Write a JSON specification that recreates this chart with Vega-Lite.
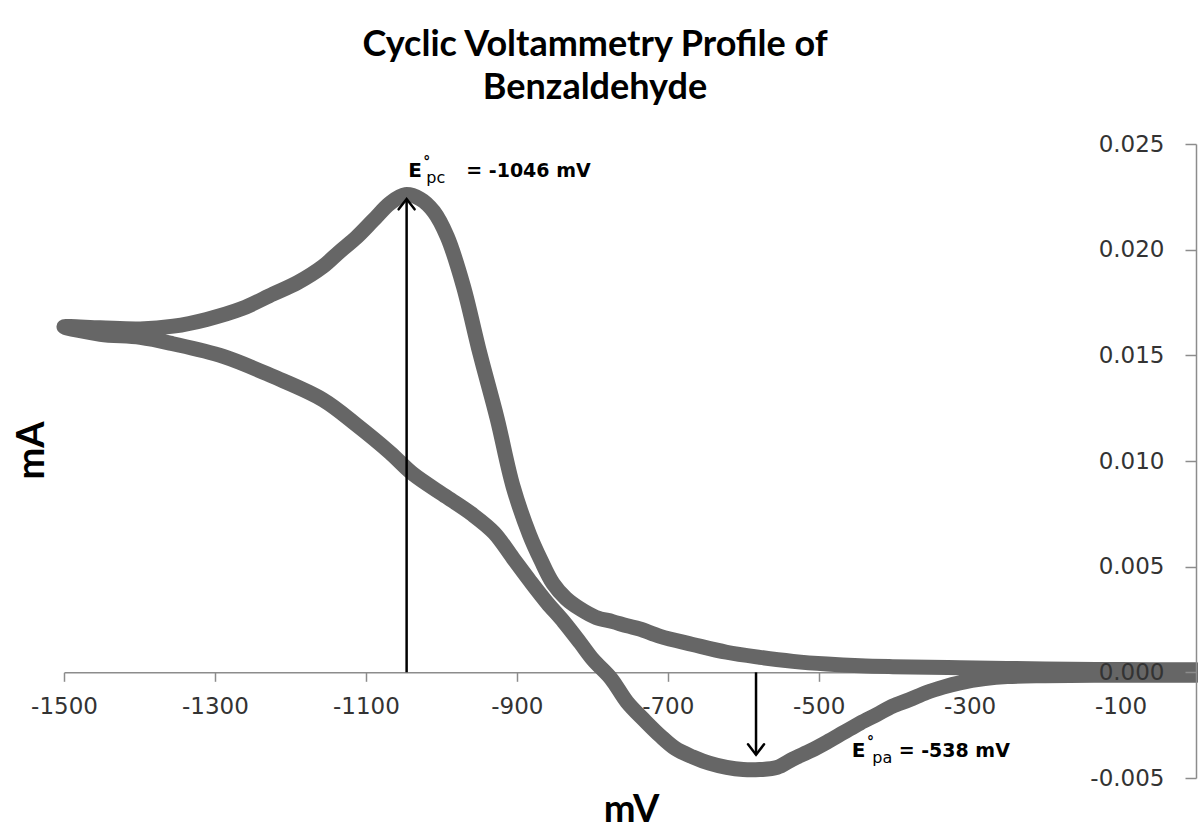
{
  "$schema": "https://vega.github.io/schema/vega-lite/v6.json",
  "width": 1132,
  "height": 634,
  "autosize": {"type": "none"},
  "padding": {"left": 64, "top": 144, "right": 2, "bottom": 56},
  "background": "white",
  "config": {"view": {"stroke": null}},
  "title": {
    "text": ["Cyclic Voltammetry Profile of", "Benzaldehyde"],
    "font": "Lato",
    "fontSize": 36,
    "fontWeight": "bold",
    "lineHeight": 43,
    "color": "black",
    "anchor": "middle",
    "dx": -35,
    "baseline": "bottom",
    "offset": 30,
    "dy": 40
  },
  "datasets": {
    "curve": [
      {"i": 1, "mV": 0, "mA": 0.00012},
      {"i": 2, "mV": -100, "mA": 0.00013},
      {"i": 3, "mV": -200, "mA": 0.00016},
      {"i": 4, "mV": -313, "mA": 0.00022},
      {"i": 5, "mV": -402, "mA": 0.00027},
      {"i": 6, "mV": -445, "mA": 0.00031},
      {"i": 7, "mV": -489, "mA": 0.00039},
      {"i": 8, "mV": -534, "mA": 0.00052},
      {"i": 9, "mV": -578, "mA": 0.00071},
      {"i": 10, "mV": -622, "mA": 0.00095},
      {"i": 11, "mV": -667, "mA": 0.00132},
      {"i": 12, "mV": -710, "mA": 0.0017},
      {"i": 13, "mV": -737, "mA": 0.00205},
      {"i": 14, "mV": -754, "mA": 0.0022},
      {"i": 15, "mV": -773, "mA": 0.0024},
      {"i": 16, "mV": -795, "mA": 0.0026},
      {"i": 17, "mV": -816, "mA": 0.003},
      {"i": 18, "mV": -835, "mA": 0.0035},
      {"i": 19, "mV": -852, "mA": 0.0042},
      {"i": 20, "mV": -868, "mA": 0.0053},
      {"i": 21, "mV": -883, "mA": 0.0065},
      {"i": 22, "mV": -905, "mA": 0.0088},
      {"i": 23, "mV": -926, "mA": 0.012},
      {"i": 24, "mV": -949, "mA": 0.0151},
      {"i": 25, "mV": -971, "mA": 0.0183},
      {"i": 26, "mV": -992, "mA": 0.0206},
      {"i": 27, "mV": -1010, "mA": 0.0218},
      {"i": 28, "mV": -1028, "mA": 0.0224},
      {"i": 29, "mV": -1048, "mA": 0.0226},
      {"i": 30, "mV": -1068, "mA": 0.0222},
      {"i": 31, "mV": -1090, "mA": 0.0214},
      {"i": 32, "mV": -1112, "mA": 0.0206},
      {"i": 33, "mV": -1135, "mA": 0.0199},
      {"i": 34, "mV": -1157, "mA": 0.0192},
      {"i": 35, "mV": -1190, "mA": 0.01845},
      {"i": 36, "mV": -1223, "mA": 0.0179},
      {"i": 37, "mV": -1265, "mA": 0.0172},
      {"i": 38, "mV": -1311, "mA": 0.0167},
      {"i": 39, "mV": -1355, "mA": 0.01638},
      {"i": 40, "mV": -1399, "mA": 0.01625},
      {"i": 41, "mV": -1452, "mA": 0.0163},
      {"i": 42, "mV": -1500, "mA": 0.01635},
      {"i": 43, "mV": -1452, "mA": 0.016},
      {"i": 44, "mV": -1399, "mA": 0.01585},
      {"i": 45, "mV": -1356, "mA": 0.01555},
      {"i": 46, "mV": -1289, "mA": 0.01495},
      {"i": 47, "mV": -1223, "mA": 0.014},
      {"i": 48, "mV": -1157, "mA": 0.0129},
      {"i": 49, "mV": -1112, "mA": 0.0117},
      {"i": 50, "mV": -1068, "mA": 0.0104},
      {"i": 51, "mV": -1038, "mA": 0.0094},
      {"i": 52, "mV": -993, "mA": 0.0083},
      {"i": 53, "mV": -960, "mA": 0.0075},
      {"i": 54, "mV": -930, "mA": 0.0066},
      {"i": 55, "mV": -905, "mA": 0.0054},
      {"i": 56, "mV": -882, "mA": 0.0043},
      {"i": 57, "mV": -860, "mA": 0.0033},
      {"i": 58, "mV": -838, "mA": 0.0024},
      {"i": 59, "mV": -816, "mA": 0.0014},
      {"i": 60, "mV": -799, "mA": 0.0006},
      {"i": 61, "mV": -775, "mA": -0.0003},
      {"i": 62, "mV": -754, "mA": -0.0014},
      {"i": 63, "mV": -730, "mA": -0.0023},
      {"i": 64, "mV": -710, "mA": -0.003},
      {"i": 65, "mV": -690, "mA": -0.0036},
      {"i": 66, "mV": -667, "mA": -0.004},
      {"i": 67, "mV": -645, "mA": -0.0043},
      {"i": 68, "mV": -622, "mA": -0.0045},
      {"i": 69, "mV": -600, "mA": -0.0046},
      {"i": 70, "mV": -578, "mA": -0.0046},
      {"i": 71, "mV": -555, "mA": -0.0045},
      {"i": 72, "mV": -534, "mA": -0.0041},
      {"i": 73, "mV": -510, "mA": -0.0037},
      {"i": 74, "mV": -489, "mA": -0.0033},
      {"i": 75, "mV": -467, "mA": -0.00285},
      {"i": 76, "mV": -445, "mA": -0.0024},
      {"i": 77, "mV": -423, "mA": -0.002},
      {"i": 78, "mV": -402, "mA": -0.0016},
      {"i": 79, "mV": -380, "mA": -0.0013},
      {"i": 80, "mV": -357, "mA": -0.00095},
      {"i": 81, "mV": -335, "mA": -0.0007},
      {"i": 82, "mV": -313, "mA": -0.0005},
      {"i": 83, "mV": -280, "mA": -0.0003},
      {"i": 84, "mV": -250, "mA": -0.0002},
      {"i": 85, "mV": -200, "mA": -0.00016},
      {"i": 86, "mV": -100, "mA": -0.00014},
      {"i": 87, "mV": 0, "mA": -0.00014}
    ],
    "arrows": [
      {"mV": -1046, "mA": 0, "tip": 0.0224, "dir": "up"},
      {"mV": -583, "mA": 0, "tip": -0.0039, "dir": "down"}
    ],
    "labels": [
      {"mV": -1044, "mA": 0.02346, "kind": "E", "t": "E"},
      {"mV": -1024, "mA": 0.02346, "kind": "deg", "t": "°"},
      {"mV": -1020, "mA": 0.02346, "kind": "sub", "t": "pc"},
      {"mV": -967, "mA": 0.02346, "kind": "val", "t": "= -1046 mV"},
      {"mV": -456, "mA": -0.00402, "kind": "E", "t": "E"},
      {"mV": -436, "mA": -0.00402, "kind": "deg", "t": "°"},
      {"mV": -429, "mA": -0.00402, "kind": "sub", "t": "pa"},
      {"mV": -394, "mA": -0.00402, "kind": "val", "t": "= -538 mV"}
    ]
  },
  "layer": [
    {
      "data": {"name": "curve"},
      "mark": {"type": "line", "color": "#666666", "strokeWidth": 15, "strokeCap": "round", "strokeJoin": "round", "interpolate": "catmull-rom", "clip": false},
      "encoding": {
        "x": {
          "field": "mV", "type": "quantitative",
          "scale": {"domain": [-1500, 0], "nice": false, "zero": false},
          "axis": {
            "title": "mV",
            "values": [-1500, -1300, -1100, -900, -700, -500, -300, -100],
            "labelExpr": "'' + datum.value",
            "offset": -105.7,
            "grid": false,
            "domainColor": "#8c8c8c", "domainWidth": 1.5,
            "tickColor": "#8c8c8c", "tickWidth": 1.5, "tickSize": 9,
            "labelFont": "DejaVu Sans", "labelFontSize": 23, "labelColor": "#333333",
            "labelPadding": 14, "labelOverlap": false, "labelBound": false, "labelFlush": false,
            "titleFont": "Lato", "titleFontSize": 38, "titleFontWeight": "bold", "titleColor": "black",
            "titleX": 567, "titleY": 149, "titleAlign": "center", "titleBaseline": "alphabetic"
          }
        },
        "y": {
          "field": "mA", "type": "quantitative",
          "scale": {"domain": [-0.005, 0.025], "nice": false, "zero": false},
          "axis": {
            "title": "mA",
            "orient": "left",
            "offset": -1132,
            "zindex": 1,
            "values": [-0.005, 0, 0.005, 0.01, 0.015, 0.02, 0.025],
            "labelExpr": "replace(format(datum.value, '.3f'), '\u2212', '-')",
            "grid": false,
            "domainColor": "#8c8c8c", "domainWidth": 1.5,
            "tickColor": "#8c8c8c", "tickWidth": 1.5, "tickSize": 11,
            "labelFont": "DejaVu Sans", "labelFontSize": 23, "labelColor": "#333333",
            "labelPadding": 21, "labelOverlap": false, "labelBound": false, "labelFlush": false,
            "titleFont": "Lato", "titleFontSize": 38, "titleFontWeight": "bold", "titleColor": "black",
            "titleX": -1164, "titleY": 306, "titleAngle": -90, "titleAlign": "center", "titleBaseline": "middle"
          }
        },
        "order": {"field": "i", "type": "quantitative"}
      }
    },
    {
      "data": {"name": "arrows"},
      "mark": {"type": "rule", "color": "black", "strokeWidth": 2.5},
      "encoding": {
        "x": {"field": "mV", "type": "quantitative"},
        "y": {"field": "mA", "type": "quantitative"},
        "y2": {"field": "tip"}
      }
    },
    {
      "data": {"name": "arrows"},
      "mark": {"type": "point", "filled": false, "stroke": "black", "strokeWidth": 2.5, "size": 256, "opacity": 1, "strokeCap": "round"},
      "encoding": {
        "x": {"field": "mV", "type": "quantitative"},
        "y": {"field": "tip", "type": "quantitative"},
        "shape": {
          "field": "dir", "type": "nominal",
          "scale": {"domain": ["up", "down"], "range": ["M-1,1.3L0,0L1,1.3", "M-1,-1.3L0,0L1,-1.3"]},
          "legend": null
        }
      }
    },
    {
      "data": {"name": "labels"},
      "transform": [{"filter": "datum.kind === 'E'"}],
      "mark": {"type": "text", "align": "left", "baseline": "alphabetic", "font": "DejaVu Sans", "fontSize": 20, "fontWeight": "bold", "color": "black"},
      "encoding": {
        "x": {"field": "mV", "type": "quantitative"},
        "y": {"field": "mA", "type": "quantitative"},
        "text": {"field": "t"}
      }
    },
    {
      "data": {"name": "labels"},
      "transform": [{"filter": "datum.kind === 'deg'"}],
      "mark": {"type": "text", "align": "left", "baseline": "alphabetic", "font": "DejaVu Sans", "fontSize": 14, "fontWeight": "bold", "color": "black", "dy": -11},
      "encoding": {
        "x": {"field": "mV", "type": "quantitative"},
        "y": {"field": "mA", "type": "quantitative"},
        "text": {"field": "t"}
      }
    },
    {
      "data": {"name": "labels"},
      "transform": [{"filter": "datum.kind === 'sub'"}],
      "mark": {"type": "text", "align": "left", "baseline": "alphabetic", "font": "DejaVu Sans", "fontSize": 16, "color": "black", "dy": 6},
      "encoding": {
        "x": {"field": "mV", "type": "quantitative"},
        "y": {"field": "mA", "type": "quantitative"},
        "text": {"field": "t"}
      }
    },
    {
      "data": {"name": "labels"},
      "transform": [{"filter": "datum.kind === 'val'"}],
      "mark": {"type": "text", "align": "left", "baseline": "alphabetic", "font": "DejaVu Sans", "fontSize": 19, "fontWeight": "bold", "color": "black"},
      "encoding": {
        "x": {"field": "mV", "type": "quantitative"},
        "y": {"field": "mA", "type": "quantitative"},
        "text": {"field": "t"}
      }
    }
  ]
}
